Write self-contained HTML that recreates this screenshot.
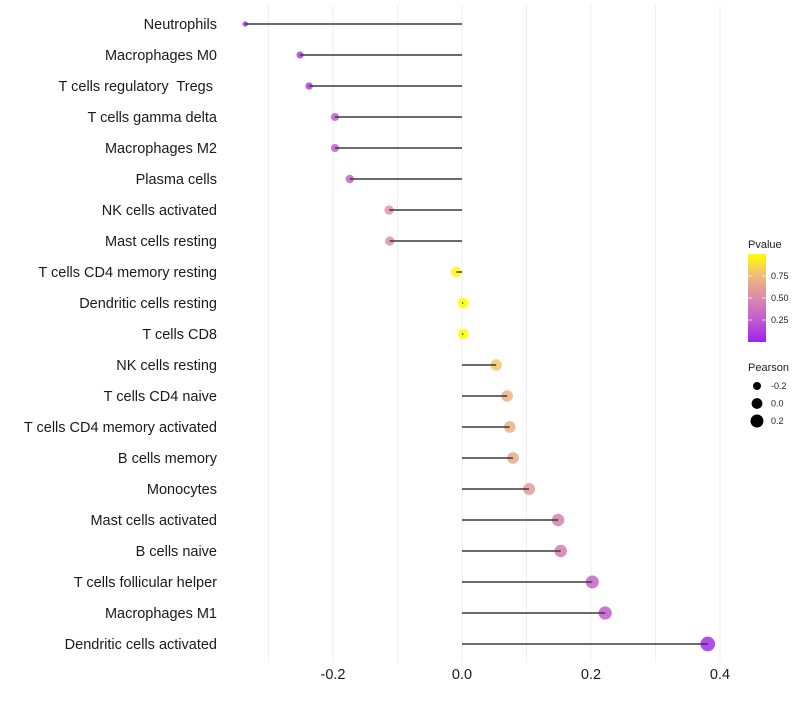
<!DOCTYPE html>
<html><head><meta charset="utf-8"><style>
body{margin:0;background:#fff}
svg text{font-family:"Liberation Sans",sans-serif;white-space:pre}
</style></head><body>
<svg id="c" width="800" height="700"></svg>
<script>
const categories=["Neutrophils","Macrophages M0","T cells regulatory  Tregs ","T cells gamma delta","Macrophages M2","Plasma cells","NK cells activated","Mast cells resting","T cells CD4 memory resting","Dendritic cells resting","T cells CD8","NK cells resting","T cells CD4 naive","T cells CD4 memory activated","B cells memory","Monocytes","Mast cells activated","B cells naive","T cells follicular helper","Macrophages M1","Dendritic cells activated"];
const pearson=[-0.336,-0.251,-0.237,-0.197,-0.197,-0.174,-0.113,-0.112,-0.009,0.002,0.002,0.053,0.070,0.074,0.079,0.104,0.149,0.153,0.202,0.222,0.381];
const pvalues=[0.05,0.12,0.14,0.25,0.25,0.3,0.55,0.55,0.97,1.0,0.99,0.8,0.72,0.7,0.68,0.6,0.45,0.43,0.3,0.25,0.05];
const xTicks=[-0.2,0.0,0.2,0.4];
const xTickLabels=["-0.2","0.0","0.2","0.4"];
const pTicks=[0.25,0.5,0.75];
const sizeLegend=[-0.2,0.0,0.2];

const NS="http://www.w3.org/2000/svg";
const svg=document.getElementById('c');
function mk(t,a,p){const e=document.createElementNS(NS,t);for(const k in a)e.setAttribute(k,a[k]);(p||svg).appendChild(e);return e;}
const x=v=>462+v*645;
const y=i=>24+i*31;
const r=v=>Math.max(1.5,Math.sqrt(Math.max(0,29+65*v)));
const stops=[[0,[160,32,240]],[0.25,[194,90,207]],[0.5,[219,138,169]],[0.75,[239,185,127]],[1,[255,255,0]]];
function col(p){for(let i=1;i<stops.length;i++){if(p<=stops[i][0]){const a=stops[i-1],b=stops[i],t=(p-a[0])/(b[0]-a[0]);return 'rgb('+a[1].map((c,j)=>Math.round(c+(b[1][j]-c)*t)).join(',')+')';}}return 'rgb(255,255,0)';}

const grid=mk('g',{});


for(let g=-3;g<=4;g++){mk('line',{x1:x(g/10),x2:x(g/10),y1:5,y2:662,stroke:'#efefef','stroke-width':1},grid);}
xTicks.forEach((v,i)=>{const t=mk('text',{x:x(v),y:679,'text-anchor':'middle','font-size':14.5,fill:'#1a1a1a'});t.textContent=xTickLabels[i];

});
categories.forEach((c,i)=>{
 const t=mk('text',{x:217,y:y(i)+5,'text-anchor':'end','font-size':14.5,fill:'#1a1a1a'});t.textContent=c;
 
 
 const pt=mk('circle',{cx:x(pearson[i]),cy:y(i),r:r(pearson[i]),fill:col(pvalues[i]),'fill-opacity':0.85});
 
 
 const s=mk('line',{x1:x(0),x2:x(pearson[i]),y1:y(i),y2:y(i),stroke:'#3a3a3a','stroke-width':1.4});
 
 
});
const lg=mk('g',{});


const lt=mk('text',{x:748,y:248,'font-size':11,fill:'#222'},lg);lt.textContent='Pvalue';
const defs=mk('defs',{});const gr=mk('linearGradient',{id:'pg',x1:0,y1:1,x2:0,y2:0},defs);
stops.forEach(s=>mk('stop',{offset:s[0],'stop-color':col(s[0])},gr));
const py=p=>342-p*88;
mk('rect',{x:748,y:py(1),width:18,height:88,fill:'url(#pg)'},lg);
pTicks.forEach(p=>{mk('line',{x1:748,x2:752,y1:py(p),y2:py(p),stroke:'#fff','stroke-width':0.7},lg);mk('line',{x1:762,x2:766,y1:py(p),y2:py(p),stroke:'#fff','stroke-width':0.7},lg);
 const t=mk('text',{x:771,y:py(p)+3,'font-size':9,fill:'#222'},lg);t.textContent=p.toFixed(2);});
const sg=mk('g',{});


const st=mk('text',{x:748,y:371,'font-size':11,fill:'#222'},sg);st.textContent='Pearson';
sizeLegend.forEach((v,i)=>{mk('circle',{cx:757,cy:386+i*17.5,r:r(v),fill:'#000'},sg);
 const t=mk('text',{x:771,y:389+i*17.5,'font-size':9,fill:'#222'},sg);t.textContent=v.toFixed(1);});
</script>
</body></html>
